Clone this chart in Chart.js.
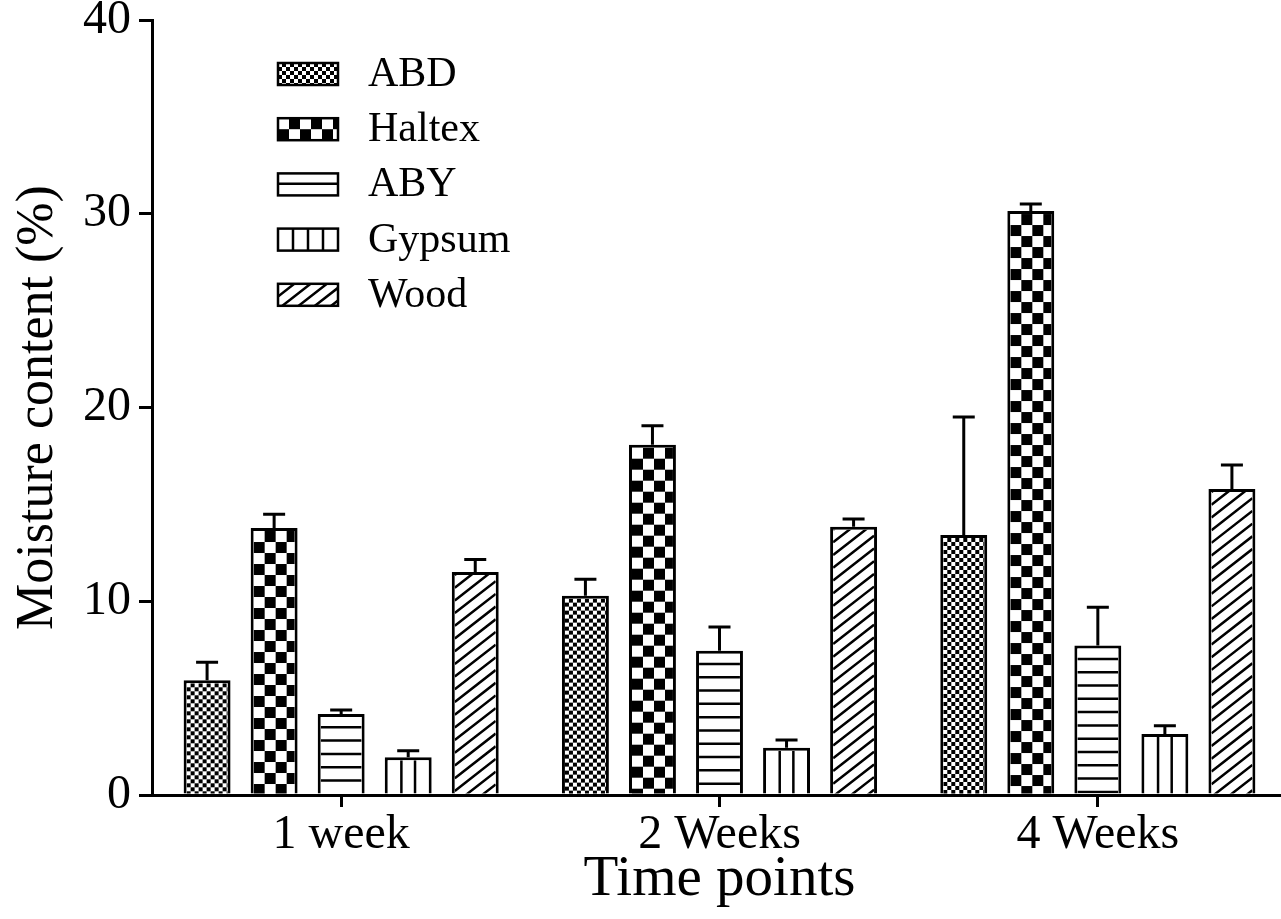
<!DOCTYPE html>
<html>
<head>
<meta charset="utf-8">
<title>Moisture content</title>
<script src="https://cdn.jsdelivr.net/npm/chart.js@4.4.1/dist/chart.umd.min.js"></script>
<style>
  html, body { margin: 0; padding: 0; background: #fff; overflow: hidden; }
  #wrap { width: 1287px; height: 919px; position: relative; }
</style>
</head>
<body>
<div id="wrap"><canvas id="chart"></canvas></div>
<script>
// data
const timePoints = ['1 week', '2 Weeks', '4 Weeks'];
const seriesNames = ['ABD', 'Haltex', 'ABY', 'Gypsum', 'Wood'];

const abd = [5.92, 10.29, 13.42];
const haltex = [13.78, 18.08, 30.14];
const aby = [4.18, 7.45, 7.71];
const gypsum = [1.95, 2.44, 3.15];
const wood = [11.51, 13.85, 15.79];

// upper error bars (SD)
const abdErr = [0.93, 0.84, 6.09];
const haltexErr = [0.71, 0.98, 0.36];
const abyErr = [0.21, 1.22, 1.98];
const gypsumErr = [0.34, 0.40, 0.43];
const woodErr = [0.65, 0.40, 1.24];

const yTicks = [0, 10, 20, 30, 40];

const values = [abd, haltex, aby, gypsum, wood];
const errors = [abdErr, haltexErr, abyErr, gypsumErr, woodErr];
const patternKinds = ['fineCheck', 'coarseCheck', 'hLines', 'vLines', 'diag'];

const FONT = "'Liberation Serif', 'Times New Roman', serif";

function drawPattern(ctx, kind, l, t, w, h) {
    if (w <= 0 || h <= 0) return;
    ctx.save();
    ctx.beginPath();
    ctx.rect(l, t, w, h);
    ctx.clip();
    ctx.fillStyle = '#000';
    ctx.strokeStyle = '#000';
    ctx.lineWidth = 2.5;
    if (kind === 'fineCheck' || kind === 'coarseCheck') {
        const cell = kind === 'fineCheck' ? 4 : 11;
        const cols = Math.ceil(w / cell), rows = Math.ceil(h / cell);
        for (let r = 0; r < rows; r++) {
            for (let c = 0; c < cols; c++) {
                if ((r + c) % 2 === 1) ctx.fillRect(l + c * cell, t + r * cell, cell, cell);
            }
        }
    } else if (kind === 'hLines') {
        ctx.beginPath();
        for (let y = t + 10.3; y < t + h; y += 13.3) {
            ctx.moveTo(l, y);
            ctx.lineTo(l + w, y);
        }
        ctx.stroke();
    } else if (kind === 'vLines') {
        const n = Math.max(2, Math.round(w / 14.7));
        ctx.beginPath();
        for (let i = 1; i < n; i++) {
            const x = l + w * i / n;
            ctx.moveTo(x, t);
            ctx.lineTo(x, t + h);
        }
        ctx.stroke();
    } else if (kind === 'diag') {
        const slope = 0.78;
        ctx.beginPath();
        for (let y0 = t; y0 < t + h + w * slope + 13; y0 += 12.7) {
            ctx.moveTo(l, y0);
            ctx.lineTo(l + w, y0 - w * slope);
        }
        ctx.stroke();
    }
    ctx.restore();
}

const barPatterns = {
    id: 'barPatterns',
    afterDatasetsDraw(chart) {
        const ctx = chart.ctx;
        const yScale = chart.scales.y;
        chart.data.datasets.forEach((ds, di) => {
            const meta = chart.getDatasetMeta(di);
            meta.data.forEach((bar, i) => {
                const p = bar.getProps(['x', 'y', 'base', 'width'], true);
                const bw = 3;
                const left = p.x - p.width / 2;
                drawPattern(ctx, patternKinds[di], left + bw, p.y + bw, p.width - 2 * bw, p.base - p.y - bw);
                // error bar (upper only)
                const yTop = yScale.getPixelForValue(values[di][i] + errors[di][i]);
                ctx.save();
                ctx.strokeStyle = '#000';
                ctx.lineWidth = 3;
                ctx.beginPath();
                ctx.moveTo(p.x, p.y);
                ctx.lineTo(p.x, yTop);
                ctx.moveTo(p.x - 11, yTop);
                ctx.lineTo(p.x + 11, yTop);
                ctx.stroke();
                ctx.restore();
            });
        });
    },
    afterDraw(chart) {
        // legend in the upper left of the plot
        const ctx = chart.ctx;
        const boxL = 278, boxW = 60, boxH = 22, rowGap = 55.2, firstY = 74;
        seriesNames.forEach((name, i) => {
            const cy = firstY + i * rowGap;
            const t = cy - boxH / 2;
            ctx.save();
            ctx.fillStyle = '#fff';
            ctx.fillRect(boxL, t, boxW, boxH);
            drawPattern(ctx, patternKinds[i], boxL, t, boxW, boxH);
            ctx.strokeStyle = '#000';
            ctx.lineWidth = 2.5;
            ctx.strokeRect(boxL, t, boxW, boxH);
            ctx.fillStyle = '#000';
            ctx.font = '42px ' + FONT;
            ctx.textBaseline = 'middle';
            ctx.textAlign = 'left';
            ctx.fillText(name, 368, cy + 1);
            ctx.restore();
        });
    }
};

const ctx = document.getElementById('chart').getContext('2d');
const myChart = new Chart(ctx, {
    type: 'bar',
    data: {
        labels: timePoints,
        datasets: seriesNames.map((name, i) => ({
            label: name,
            data: values[i],
            backgroundColor: '#fff',
            borderColor: '#000',
            borderWidth: 3,
            categoryPercentage: 0.886,
            barPercentage: 0.70,
        }))
    },
    options: {
        responsive: true,
        maintainAspectRatio: false,
        animation: false,
        devicePixelRatio: 1,
        layout: { padding: { top: 20, left: 0, right: 0, bottom: 0 } },
        plugins: {
            legend: { display: false },
            tooltip: { enabled: false },
        },
        scales: {
            x: {
                grid: {
                    display: true,
                    drawOnChartArea: false,
                    offset: false,
                    color: '#000',
                    lineWidth: 3,
                    tickLength: 12,
                },
                border: { color: '#000', width: 3, z: 1 },
                ticks: {
                    color: '#000',
                    font: { family: FONT, size: 48, lineHeight: 1.1 },
                    padding: 2,
                    maxRotation: 0,
                },
                title: {
                    display: true,
                    text: 'Time points',
                    color: '#000',
                    font: { family: FONT, size: 57, lineHeight: 1.2 },
                    padding: { top: 0, bottom: 5 },
                },
                afterFit(scale) {
                    scale.height = 124;
                    scale.paddingLeft = 0;
                    scale.paddingRight = 0;
                }
            },
            y: {
                min: 0,
                max: 40,
                afterBuildTicks(scale) { scale.ticks = yTicks.map(v => ({ value: v })); },
                grid: {
                    display: true,
                    drawOnChartArea: false,
                    color: '#000',
                    lineWidth: 3,
                    tickLength: 13,
                },
                border: { color: '#000', width: 3, z: 1 },
                ticks: {
                    color: '#000',
                    font: { family: FONT, size: 48, lineHeight: 0.9 },
                    padding: 8,
                },
                title: {
                    display: true,
                    text: 'Moisture content (%)',
                    color: '#000',
                    font: { family: FONT, size: 52, lineHeight: 1.2 },
                    padding: { top: 7, bottom: 0 },
                },
                afterFit(scale) {
                    scale.width = 152;
                    scale.paddingTop = 0;
                    scale.paddingBottom = 0;
                }
            }
        }
    },
    plugins: [barPatterns]
});
</script>
</body>
</html>
